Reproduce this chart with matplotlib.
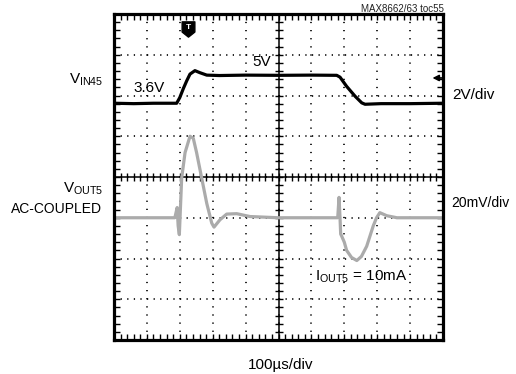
import numpy as np
import matplotlib
matplotlib.use('Agg')
import matplotlib.pyplot as plt
from matplotlib.path import Path

plt.rcParams['font.family'] = ['Liberation Sans', 'DejaVu Sans']
plt.rcParams['mathtext.fontset'] = 'custom'
plt.rcParams['mathtext.rm'] = 'Liberation Sans'
plt.rcParams['mathtext.it'] = 'Liberation Sans'
plt.rcParams['lines.scale_dashes'] = False

# scope settings
T_DIV = 100.0       # us/div
VIN_DIV = 2.0       # V/div, ch1 ground on center line
VOUT_DIV = 20.0     # mV/div
VOUT_OFFSET = -1.0  # ch2 ground, divisions from center
TRIG_T = 225.0      # us
TRIG_LEVEL = 4.86   # V

# VIN45 line step 3.6V -> 5V -> 3.6V (us, V)
vin_t = [0, 60, 120, 190.5, 200, 211, 221, 231, 246, 261, 282, 320, 400, 500, 600,
         677, 687, 707, 733, 753, 763, 812, 900, 1000]
vin_v = [3.62, 3.60, 3.62, 3.62, 3.9, 4.35, 4.72, 5.05, 5.22, 5.12, 5.0, 4.98, 5.0, 4.99, 5.0,
         4.99, 4.9, 4.45, 3.96, 3.64, 3.57, 3.6, 3.6, 3.62]

# VOUT5 ac-coupled response (us, mV)
vout_t = [0, 100, 185, 192, 195, 198.6, 205.7, 216, 231, 241, 251, 266.5, 282, 297, 304,
          322, 342.5, 373, 413, 500, 600, 680, 684, 687, 689, 692, 700, 707, 722, 738,
          752, 768, 778, 788, 798, 808, 829, 860, 1000]
vout_mv = [0, 0, 0, 5, -4, -8.3, 19.5, 32, 40, 39, 32, 19.5, 7, -2.6, -4.6,
           -1, 1.8, 2, 0.6, 0, 0, 0, 10, 0, -8, -9, -12, -16, -19.5, -21,
           -19, -14, -9, -4, 0, 2.5, 1, 0, 0]

fig = plt.figure(figsize=(5.16, 3.74), dpi=100)
ax = fig.add_axes([114 / 516, 34 / 374, 329 / 516, 326 / 374])
ax.set_xlim(0, 10 * T_DIV)
ax.set_ylim(-4, 4)

# graticule
ax.set_xticks(np.arange(0, 10 * T_DIV + 1, T_DIV))
ax.set_yticks(np.arange(-4, 5, 1))
ax.set_xticks(np.arange(0, 10 * T_DIV + 1, T_DIV / 5), minor=True)
ax.set_yticks(np.arange(-4, 4.01, 0.2), minor=True)
ax.set_xticklabels([])
ax.set_yticklabels([])
ax.tick_params(which='both', direction='in', length=4, width=1, color='black',
               top=True, right=True)
ax.xaxis.grid(True, color='black', lw=1.2, linestyle=(0, (0.9, 4.95)))
ax.yaxis.grid(True, color='black', lw=1.2, linestyle=(0, (0.9, 3.85)))
for s in ax.spines.values():
    s.set_linewidth(2.3)

# center cross with ticks
ax.axhline(0, color='black', lw=1.1)
ax.axvline(5 * T_DIV, color='black', lw=1.1)
cx = np.arange(0, 10 * T_DIV + 1, T_DIV / 5)
cy = np.arange(-4, 4.01, 0.2)
ax.plot(cx, np.zeros_like(cx), ls='none', marker='|', ms=6, mew=1, color='black')
ax.plot(np.full_like(cy, 5 * T_DIV), cy, ls='none', marker='_', ms=6, mew=1, color='black')

# traces
ax.plot(vout_t, np.array(vout_mv) / VOUT_DIV + VOUT_OFFSET, color='#ababab', lw=2.3,
        solid_joinstyle='round')
ax.plot(vin_t, np.array(vin_v) / VIN_DIV, color='black', lw=2.3, solid_joinstyle='round')

# trigger position and level markers
shield = Path([(-0.5, 0.6), (0.5, 0.6), (0.5, -0.2), (0, -0.6), (-0.5, -0.2), (-0.5, 0.6)],
              [Path.MOVETO, Path.LINETO, Path.LINETO, Path.LINETO, Path.LINETO, Path.CLOSEPOLY])
ax.plot([TRIG_T], [3.62], marker=shield, ms=11, color='black', ls='none')
ax.text(TRIG_T, 3.66, 'T', color='white', fontsize=6, fontweight='bold',
        ha='center', va='center')
ax.annotate('', xy=(968, TRIG_LEVEL / VIN_DIV), xytext=(1000, TRIG_LEVEL / VIN_DIV),
            arrowprops=dict(arrowstyle='-|>', color='black', lw=1.2, mutation_scale=9,
                            shrinkA=0, shrinkB=0))

# labels inside the graticule
fs = 11
ax.text(58, 2.09, '3.6V', fontsize=fs, va='baseline')
ax.text(419, 2.72, '5V', fontsize=fs, va='baseline')
ax.text(611, -2.55, r'I$_{\mathrm{OUT5}}$ = 10mA', fontsize=fs, va='baseline')

# channel labels
ax.text(-0.033, 6.28 / 8, r'V$_{\mathrm{IN45}}$', transform=ax.transAxes,
        fontsize=fs, ha='right', va='baseline')
ax.text(-0.033, 3.615 / 8, r'V$_{\mathrm{OUT5}}$', transform=ax.transAxes,
        fontsize=fs, ha='right', va='baseline')
ax.text(-0.036, 3.12 / 8, 'AC-COUPLED', transform=ax.transAxes,
        fontsize=10, ha='right', va='baseline')
ax.text(1.027, 5.91 / 8, '2V/div', transform=ax.transAxes, fontsize=fs, va='baseline')
ax.text(1.024, 3.26 / 8, '20mV/div', transform=ax.transAxes, fontsize=10, va='baseline')

fig.text(281 / 516, 1 - 369.5 / 374, '100\u00b5s/div', fontsize=fs, ha='center', va='baseline')
fig.text(444 / 516, 1 - 11.7 / 374, 'MAX8662/63 toc55', fontsize=7, ha='right',
         va='baseline', color='#222222')

fig.savefig('out.png', dpi=100)
